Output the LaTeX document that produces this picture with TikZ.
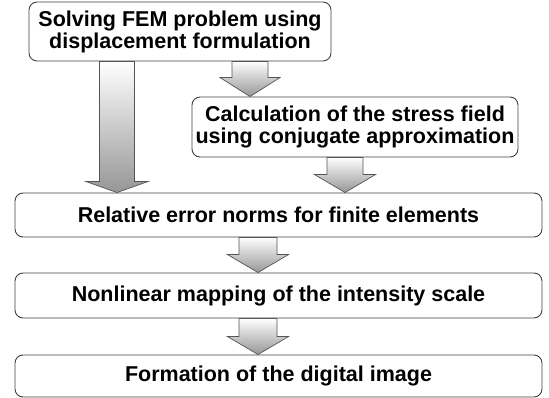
\documentclass[tikz,border=0pt]{standalone}
\usepackage{fontspec}
\setmainfont{Liberation Sans}
\usetikzlibrary{calc}
\definecolor{boxline}{RGB}{64,64,64}
\definecolor{arrline}{RGB}{85,85,85}
\definecolor{arrgray}{RGB}{150,150,150}
\tikzset{
  box/.style={draw=boxline, line width=0.9pt, rounded corners=8pt, fill=white,
    align=center, inner sep=0pt, font=\fontsize{21.5}{22}\selectfont\bfseries},
  fatarr/.style={draw=arrline, line width=0.7pt, top color=white, bottom color=arrgray},
}
\newcommand{\fatarrow}[6]{% x, from, to, shaft half, head half, head length
  \path[fatarr] let \p1=(#2.south), \p2=(#3.north) in
    (#1-#4,\y1) -- (#1+#4,\y1) -- (#1+#4,\y2+#6) -- (#1+#5,\y2+#6) -- (#1,\y2)
    -- (#1-#5,\y2+#6) -- (#1-#4,\y2+#6) -- cycle;}
\begin{document}
\begin{tikzpicture}[x=1pt,y=1pt]
\useasboundingbox (0,0) rectangle (549,398);
\node[box, minimum width=302, minimum height=59] (b1) at (180,366.5)
  {Solving FEM problem using\\displacement formulation};
\node[box, minimum width=326, minimum height=60] (b2) at (355,271)
  {Calculation of the stress field\\using conjugate approximation};
\node[box, minimum width=527, minimum height=44] (b3) at (278.5,183)
  {Relative error norms for finite elements};
\node[box, minimum width=527, minimum height=45] (b4) at (278.5,102.5)
  {Nonlinear mapping of the intensity scale};
\node[box, minimum width=527, minimum height=42] (b5) at (278.5,22)
  {Formation of the digital image};
\fatarrow{117}{b1}{b3}{17.5}{31}{11}
\fatarrow{250}{b1}{b2}{18}{30}{19}
\fatarrow{345}{b2}{b3}{18}{30.5}{18}
\fatarrow{258}{b3}{b4}{19}{30.5}{18}
\fatarrow{258}{b4}{b5}{19}{30.5}{18}
\end{tikzpicture}
\end{document}
